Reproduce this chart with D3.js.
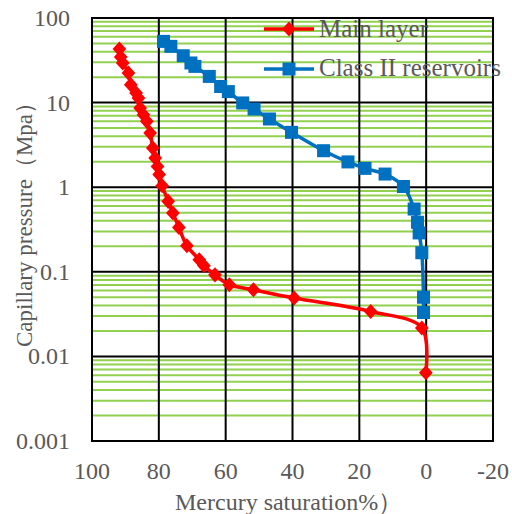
<!DOCTYPE html>
<html>
<head>
<meta charset="utf-8">
<script src="https://cdn.jsdelivr.net/npm/d3@7"></script>
<style>
  body { margin: 0; background: #fff; }
  svg { display: block; }
</style>
</head>
<body>
<svg id="chart" width="512" height="514"></svg>
<script>
// Main layer (red diamonds)
const mainSat = [91.8, 91.4, 90.8, 89.1, 88.4, 86.8, 86.1, 85.6, 84.6, 83.6, 82.6, 81.8, 81.1, 80.4, 79.9, 79.0,
  77.2, 75.8, 74.0, 71.6, 67.9, 66.5, 63.2, 58.9, 51.7, 39.5, 16.6, 1.3, 0.1];
const mainPc = [43.0, 34.6, 29.4, 22.4, 16.3, 13.0, 11.3, 8.63, 7.19, 6.0, 4.37, 2.90, 2.21, 1.76, 1.41, 1.04,
  0.68, 0.495, 0.335, 0.203, 0.139, 0.118, 0.092, 0.0704, 0.0614, 0.049, 0.034, 0.0217, 0.0064];

// Class II reservoirs (blue squares)
const classSat = [78.6, 76.4, 72.7, 70.4, 69.2, 64.9, 61.5, 59.2, 54.9, 51.5, 46.9, 40.3, 30.7, 23.4, 18.3, 12.3,
  6.8, 3.6, 2.6, 2.1, 1.3, 0.8, 0.8];
const classPc = [52.9, 46.2, 35.8, 29.4, 26.8, 20.4, 15.5, 13.5, 9.9, 8.4, 6.4, 4.45, 2.70, 1.99, 1.67, 1.43,
  1.02, 0.552, 0.385, 0.288, 0.168, 0.050, 0.033];

const xTicks = [100, 80, 60, 40, 20, 0, -20];
const yTicks = [0.001, 0.01, 0.1, 1, 10, 100];
const seriesNames = ["Main layer", "Class II reservoirs"];

const svg = d3.select("#chart")
  .attr("font-family", "'Liberation Serif', 'Times New Roman', serif");
const plotLeft = 92, plotRight = 493, plotTop = 18, plotBottom = 441;
const textColor = "#595959";

const x = d3.scaleLinear().domain([100, -20]).range([plotLeft, plotRight]);
const y = d3.scaleLog().domain([0.001, 100]).range([plotBottom, plotTop]);

// minor green gridlines, 2..9 in every decade
let minor = [];
yTicks.slice(0, -1).forEach(d => {
  for (let k = 2; k <= 9; k++) minor.push(d * k);
});
svg.append("g").selectAll("line").data(minor).enter().append("line")
  .attr("x1", plotLeft).attr("x2", plotRight)
  .attr("y1", d => y(d)).attr("y2", d => y(d))
  .attr("stroke", "#92d050").attr("stroke-width", 2);

// major black gridlines
svg.append("g").selectAll("line").data(yTicks).enter().append("line")
  .attr("x1", plotLeft).attr("x2", plotRight)
  .attr("y1", d => y(d)).attr("y2", d => y(d))
  .attr("stroke", "#000").attr("stroke-width", 2);
svg.append("g").selectAll("line").data(xTicks).enter().append("line")
  .attr("y1", plotTop).attr("y2", plotBottom)
  .attr("x1", d => x(d)).attr("x2", d => x(d))
  .attr("stroke", "#000").attr("stroke-width", 2);

// tick labels
svg.append("g").selectAll("text").data(yTicks).enter().append("text")
  .attr("x", 70).attr("y", d => y(d) + 8)
  .attr("text-anchor", "end").attr("font-size", 24).attr("fill", textColor)
  .text(d => String(d));
svg.append("g").selectAll("text").data(xTicks).enter().append("text")
  .attr("x", d => x(d)).attr("y", 479)
  .attr("text-anchor", "middle").attr("font-size", 24).attr("fill", textColor)
  .text(d => d);

// axis titles
svg.append("text").attr("x", 175).attr("y", 510).attr("font-size", 24).attr("fill", textColor)
  .text("Mercury saturation%）");
svg.append("text").attr("transform", "translate(32,219) rotate(-90)")
  .attr("text-anchor", "middle").attr("font-size", 23).attr("fill", textColor)
  .text("Capillary pressure（Mpa）");

const line = d3.line().x(d => x(d[0])).y(d => y(d[1])).curve(d3.curveCatmullRom.alpha(0.5));
const diamond = d3.symbol().type(d3.symbolDiamond2).size(120);

let mainData = mainSat.map((s, i) => [s, mainPc[i]]);
let classData = classSat.map((s, i) => [s, classPc[i]]);

// red series
svg.append("path").datum(mainData).attr("d", line)
  .attr("fill", "none").attr("stroke", "#ff0000").attr("stroke-width", 3.5);
svg.append("g").selectAll("path").data(mainData).enter().append("path")
  .attr("d", diamond)
  .attr("transform", d => `translate(${x(d[0])},${y(d[1])}) scale(1,1.1)`)
  .attr("fill", "#ff0000");

// blue series
svg.append("path").datum(classData).attr("d", line)
  .attr("fill", "none").attr("stroke", "#0070c0").attr("stroke-width", 3.5);
svg.append("g").selectAll("rect").data(classData).enter().append("rect")
  .attr("x", d => x(d[0]) - 6.5).attr("y", d => y(d[1]) - 6.5)
  .attr("width", 13).attr("height", 13)
  .attr("fill", "#0070c0");

// border
svg.append("rect").attr("x", plotLeft).attr("y", plotTop)
  .attr("width", plotRight - plotLeft).attr("height", plotBottom - plotTop)
  .attr("fill", "none").attr("stroke", "#000").attr("stroke-width", 2);

// legend
let legend = svg.append("g");
legend.append("line").attr("x1", 264).attr("x2", 314).attr("y1", 29).attr("y2", 29)
  .attr("stroke", "#ff0000").attr("stroke-width", 3.5);
legend.append("path").attr("d", diamond)
  .attr("transform", "translate(289,29) scale(1,1.1)").attr("fill", "#ff0000");
legend.append("line").attr("x1", 264).attr("x2", 314).attr("y1", 69).attr("y2", 69)
  .attr("stroke", "#0070c0").attr("stroke-width", 3.5);
legend.append("rect").attr("x", 282.5).attr("y", 62.5).attr("width", 13).attr("height", 13)
  .attr("fill", "#0070c0");
legend.selectAll("text").data(seriesNames).enter().append("text")
  .attr("x", 319).attr("y", (d, i) => 37 + i * 39)
  .attr("font-size", 25).attr("fill", textColor)
  .text(d => d);
</script>
</body>
</html>
